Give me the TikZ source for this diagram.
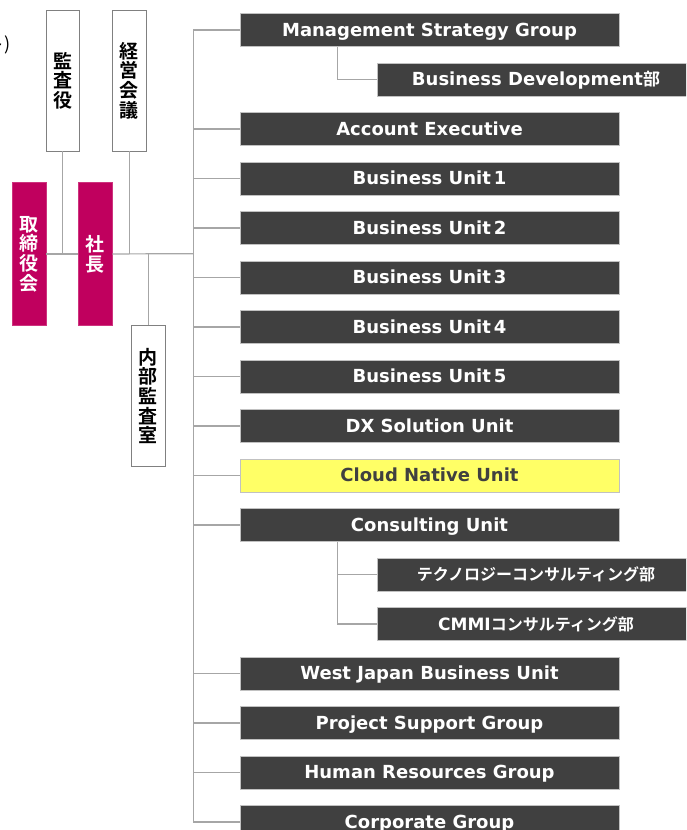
\documentclass[tikz,border=0pt]{standalone}
\usepackage{fontspec}
\setmainfont{DejaVu Sans}
\newfontfamily\jp{Noto Sans CJK JP}[BoldFont={Noto Sans CJK JP Bold}]
\usetikzlibrary{positioning}

\definecolor{boxdark}{HTML}{404040}
\definecolor{boxline}{HTML}{A6A6A6}
\definecolor{exec}{HTML}{C0005E}
\definecolor{hilite}{HTML}{FFFF66}

\begin{document}
\begin{tikzpicture}
[x=1pt,y=-1pt
,ln/.style={draw=boxline,line width=1.2pt}
,unit/.style={rectangle,draw=boxline!70,line width=0.6pt,fill=boxdark,text=white,
  minimum width=379pt,minimum height=33.4pt,inner sep=0pt,text height=12pt,text depth=0pt,
  font=\fontsize{18}{20}\selectfont\bfseries}
,sub/.style={unit,minimum width=317pt}
,cnu/.style={unit,fill=hilite,text=boxdark}
,vbox/.style={rectangle,draw=gray,line width=0.8pt,fill=white,inner sep=0pt,
  minimum width=33.4pt,align=center,font=\jp\bfseries\fontsize{19}{19.6}\selectfont}
,head/.style={vbox,draw=exec!80,fill=exec,text=white,minimum height=142.5pt}]
\useasboundingbox (0,0) rectangle (686,830);
\clip (0,0) rectangle (686,830);

\node[anchor=east,font=\jp\fontsize{18}{20}\selectfont] (note) at (14,45) {ト)};

\node[vbox,minimum height=141pt] (kansayaku) at (62.7,80.5) {監\\査\\役};
\node[vbox,minimum height=141pt] (keiei) at (129.3,80.5) {経\\営\\会\\議};
\node[head] (board) at (29.3,254) {取\\締\\役\\会};
\node[head] (ceo) at (95.3,254) {社\\長};
\node[vbox,minimum height=141.7pt] (naibu) at (148.3,396) {内\\部\\監\\査\\室};

\coordinate (hub) at (193.3,253.7);
\coordinate (top) at (193.3,30);
\coordinate (bot) at (193.3,821.5);

\node[unit] (msg) at (429.5,30) {Management Strategy Group};
\node[sub] (bd) at (536,79.5) {Business Development{\jp\bfseries\fontsize{17}{20}\selectfont 部}};
\node[unit] (ae) at (429.5,129) {Account Executive};
\node[unit] (bu1) at (429.5,178.5) {Business Unit\,1};
\node[unit] (bu2) at (429.5,228) {Business Unit\,2};
\node[unit] (bu3) at (429.5,277.5) {Business Unit\,3};
\node[unit] (bu4) at (429.5,327) {Business Unit\,4};
\node[unit] (bu5) at (429.5,376.5) {Business Unit\,5};
\node[unit] (dx) at (429.5,426) {DX Solution Unit};
\node[cnu] (cloud) at (429.5,475.5) {Cloud Native Unit};
\node[unit] (consult) at (429.5,525) {Consulting Unit};
\node[sub] (tech) at (536,574.5) {\jp\bfseries\fontsize{16}{20}\selectfont テクノロジーコンサルティング部};
\node[sub] (cmmi) at (536,624) {\fontsize{17}{20}\selectfont CMMI{\jp\bfseries\fontsize{16}{20}\selectfont コンサルティング部}};
\node[unit] (west) at (429.5,673.5) {West Japan Business Unit};
\node[unit] (pms) at (429.5,723) {Project Support Group};
\node[unit] (hr) at (429.5,772.5) {Human Resources Group};
\node[unit] (corp) at (429.5,822) {Corporate Group};

\draw[ln] (board) -- (ceo);
\draw[ln] (ceo) -- (hub);
\draw[ln] (kansayaku) -- (kansayaku |- hub);
\draw[ln] (keiei) -- (keiei |- hub);
\draw[ln] (naibu.north) -- (naibu.north |- hub);
\draw[ln] (top) -- (bot);

\foreach \n in {msg,ae,bu1,bu2,bu3,bu4,bu5,dx,cloud,consult,west,pms,hr,corp}
  \draw[ln] (\n.west) -- (\n.west -| top);

\draw[ln] ([xshift=-40pt]bd.west |- msg.south) |- (bd.west);
\draw[ln] ([xshift=-40pt]cmmi.west |- consult.south) |- (cmmi.west);
\draw[ln] ([xshift=-40pt]tech.west) -- (tech.west);
\end{tikzpicture}
\end{document}
